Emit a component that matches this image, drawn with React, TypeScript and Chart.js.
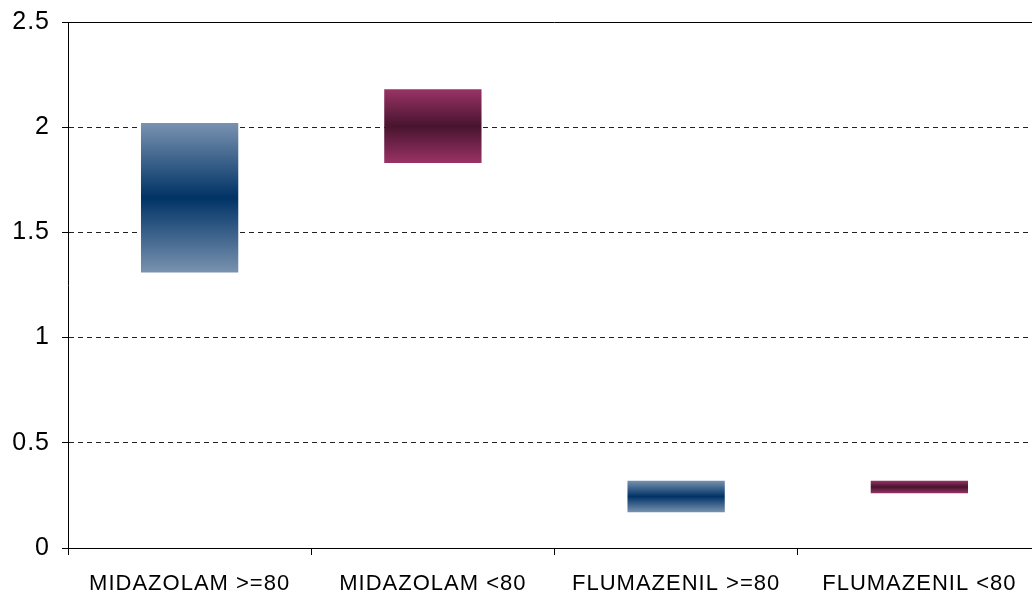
import React, { useEffect, useRef } from 'react';
import { Chart, registerables } from 'chart.js';

Chart.register(...registerables);

// Range bars: each category spans from a low to a high value
const categories = ['MIDAZOLAM >=80', 'MIDAZOLAM <80', 'FLUMAZENIL >=80', 'FLUMAZENIL <80'];
const lowValues = [1.31, 1.83, 0.17, 0.26];
const highValues = [2.02, 2.18, 0.32, 0.32];
const yTickValues = [0, 0.5, 1, 1.5, 2, 2.5];

// Fill palettes: [edge, centre] for each category
const blueFill = ['rgb(121,146,176)', 'rgb(0,51,102)'];
const plumFill = ['rgb(153,51,102)', 'rgb(72,20,46)'];
const barFills = [blueFill, plumFill, blueFill, plumFill];

const FONT_FAMILY = '"Liberation Sans", Arial, sans-serif';
const LETTER_SPACING = '1px';

// Slightly wider glyph spacing for all chart text, and a solid frame line along the top
const framePlugin = {
  id: 'frame',
  beforeUpdate(chart: any) {
    chart.ctx.letterSpacing = LETTER_SPACING;
  },
  beforeDraw(chart: any) {
    chart.ctx.letterSpacing = LETTER_SPACING;
  },
  afterDraw(chart: any) {
    const { ctx, chartArea } = chart;
    ctx.save();
    ctx.strokeStyle = '#000';
    ctx.lineWidth = 1;
    ctx.setLineDash([]);
    ctx.beginPath();
    ctx.moveTo(chartArea.left, chartArea.top + 0.5);
    ctx.lineTo(chartArea.right, chartArea.top + 0.5);
    ctx.stroke();
    ctx.restore();
  },
};

export default function App() {
  const canvasRef = useRef<HTMLCanvasElement | null>(null);

  useEffect(() => {
    const canvas = canvasRef.current;
    if (!canvas) return;

    const chart = new Chart(canvas, {
      type: 'bar',
      data: {
        labels: categories,
        datasets: [
          {
            data: categories.map((_, i) => [lowValues[i], highValues[i]]),
            backgroundColor: (ctx: any) => {
              const i = ctx.dataIndex ?? 0;
              const [edge, centre] = barFills[i % barFills.length];
              const { chart: c } = ctx;
              const yScale = c.scales?.y;
              if (!c.chartArea || !yScale || ctx.type !== 'data') return edge;
              const top = yScale.getPixelForValue(highValues[i]);
              const bottom = yScale.getPixelForValue(lowValues[i]);
              if (!isFinite(top) || !isFinite(bottom) || top === bottom) return edge;
              const g = c.ctx.createLinearGradient(0, top, 0, bottom);
              g.addColorStop(0, edge);
              g.addColorStop(0.5, centre);
              g.addColorStop(1, edge);
              return g;
            },
            borderWidth: 0,
            categoryPercentage: 1,
            barPercentage: 0.4,
          },
        ],
      },
      options: {
        responsive: false,
        animation: false,
        devicePixelRatio: 1,
        layout: { padding: { top: 15, right: 20, bottom: 0, left: 0 } },
        plugins: {
          legend: { display: false },
          tooltip: { enabled: false },
          title: { display: false },
        },
        scales: {
          x: {
            grid: {
              offset: true,
              drawOnChartArea: false,
              drawTicks: true,
              tickLength: 7,
              tickColor: '#000',
              color: '#000',
            },
            border: { display: true, color: '#000', width: 1 },
            ticks: {
              color: '#000',
              font: { family: FONT_FAMILY, size: 22 },
              padding: 16,
              maxRotation: 0,
              autoSkip: false,
            },
            afterFit: (scale: any) => {
              scale.height = 49;
            },
          },
          y: {
            min: 0,
            max: 2.5,
            afterBuildTicks: (scale: any) => {
              scale.ticks = yTickValues.map((v) => ({ value: v }));
            },
            grid: {
              color: '#222',
              lineWidth: 1,
              drawTicks: true,
              tickLength: 6,
              tickColor: '#000',
            },
            border: { display: true, color: '#000', width: 1, dash: [5, 4] },
            ticks: {
              color: '#000',
              font: { family: FONT_FAMILY, size: 25 },
              padding: 12,
              callback: (v: any) => String(v),
            },
            afterFit: (scale: any) => {
              scale.width = 68;
            },
          },
        },
      },
      plugins: [framePlugin],
    });

    return () => chart.destroy();
  }, []);

  return (
    <div
      style={{
        position: 'absolute',
        left: 0,
        top: 0,
        width: 1032,
        height: 597,
        overflow: 'hidden',
        background: '#fff',
      }}
    >
      <canvas
        ref={canvasRef}
        width={1061}
        height={602}
        style={{ width: 1061, height: 602, display: 'block', marginTop: -5 }}
      />
    </div>
  );
}
